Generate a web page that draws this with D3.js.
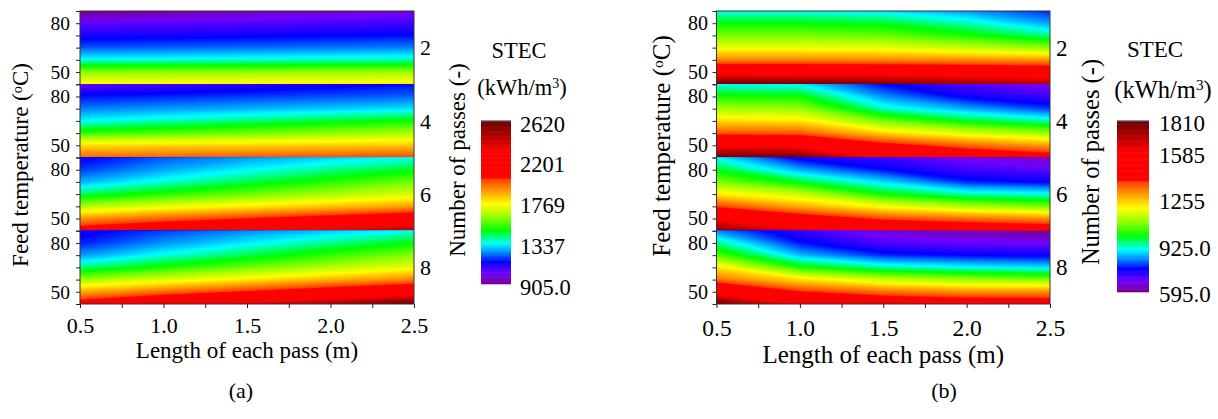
<!DOCTYPE html>
<html><head><meta charset="utf-8">
<script src="https://cdn.jsdelivr.net/npm/d3@7"></script>
<style>
body{margin:0;background:#fff}
svg text{font-family:"Liberation Serif","Times New Roman","DejaVu Serif",serif;fill:#000}
</style>
</head><body>
<svg id="chart" width="1218" height="419"></svg>
<script>
// ---------------- DATA ----------------
const lengths = [0.5, 1.0, 1.5, 2.0, 2.5];          // Length of each pass (m)
const temps   = [42.5, 50, 57.5, 65, 72.5, 80, 87.5]; // Feed temperature (°C), grid rows
const passes  = ["2", "4", "6", "8"];                 // Number of passes
const xTickValues = [0.5, 0.75, 1.0, 1.25, 1.5, 1.75, 2.0, 2.25, 2.5];
const xTickLabels = [0.5, 1.0, 1.5, 2.0, 2.5];
const tempTickLabels = [50, 80];

// Panel (a) STEC (kWh/m3); rows = temps, columns = lengths
const stecA_p2 = [
  [1760, 1765, 1770, 1775, 1780],
  [1600, 1605, 1610, 1615, 1620],
  [1340, 1346, 1354, 1362, 1370],
  [1200, 1208, 1216, 1224, 1232],
  [1115, 1122, 1130, 1138, 1146],
  [1030, 1040, 1050, 1060, 1070],
  [905, 930, 952, 970, 990]
];
const stecA_p4 = [
  [1960, 1970, 1980, 1990, 2000],
  [1790, 1797, 1805, 1812, 1820],
  [1510, 1545, 1575, 1608, 1640],
  [1330, 1370, 1405, 1442, 1480],
  [1230, 1250, 1270, 1290, 1310],
  [1150, 1165, 1180, 1195, 1210],
  [1030, 1065, 1095, 1122, 1150]
];
const stecA_p6 = [
  [2100, 2180, 2260, 2350, 2450],
  [1890, 1960, 2020, 2085, 2150],
  [1640, 1710, 1770, 1825, 1880],
  [1420, 1500, 1570, 1635, 1700],
  [1270, 1355, 1430, 1505, 1580],
  [1180, 1260, 1330, 1395, 1455],
  [1130, 1200, 1250, 1295, 1335]
];
const stecA_p8 = [
  [2100, 2220, 2340, 2470, 2620],
  [1860, 1950, 2030, 2115, 2200],
  [1620, 1700, 1775, 1850, 1920],
  [1400, 1490, 1570, 1648, 1720],
  [1250, 1345, 1430, 1515, 1600],
  [1160, 1245, 1320, 1395, 1470],
  [1120, 1185, 1240, 1290, 1340]
];
// Panel (b)
const stecB_p2 = [
  [1810, 1800, 1780, 1740, 1700],
  [1520, 1520, 1515, 1500, 1480],
  [1310, 1310, 1305, 1300, 1290],
  [1175, 1175, 1170, 1135, 1090],
  [1075, 1075, 1062, 1010, 940],
  [995, 995, 980, 925, 845],
  [900, 900, 885, 840, 780]
];
const stecB_p4 = [
  [1800, 1790, 1560, 1500, 1450],
  [1560, 1550, 1420, 1340, 1280],
  [1355, 1350, 1230, 1160, 1100],
  [1225, 1215, 1070, 980, 925],
  [1110, 1100, 920, 850, 790],
  [1009, 1000, 835, 750, 715],
  [900, 890, 763, 700, 660]
];
const stecB_p6 = [
  [1760, 1620, 1550, 1500, 1480],
  [1560, 1450, 1366, 1330, 1300],
  [1370, 1270, 1180, 1115, 1070],
  [1210, 1140, 1000, 925, 905],
  [1080, 980, 880, 780, 755],
  [985, 850, 765, 710, 690],
  [890, 745, 715, 660, 630]
];
const stecB_p8 = [
  [1800, 1560, 1500, 1470, 1460],
  [1540, 1390, 1330, 1300, 1300],
  [1330, 1220, 1140, 1100, 1080],
  [1215, 1009, 930, 899, 880],
  [1050, 860, 780, 760, 750],
  [940, 770, 700, 680, 670],
  [830, 720, 650, 620, 595]
];
const rangeA = [905, 2620];
const rangeB = [595, 1810];
const cbTicksA = [905, 1337, 1769, 2201, 2620];
const cbLabelsA = ["905.0", "1337", "1769", "2201", "2620"];
const cbTicksB = [595, 925, 1255, 1585, 1810];
const cbLabelsB = ["595.0", "925.0", "1255", "1585", "1810"];

// Rainbow palette (fraction of range -> colour)
const paletteStops  = [0, 0.067, 0.138, 0.19, 0.25, 0.33, 0.41, 0.493, 0.574, 0.645, 0.655, 0.817, 1];
const paletteColors = ["#7a0088", "#7000ff", "#0000ff", "#0080ff", "#00ffff", "#00ff00", "#90ff00", "#ffff00", "#ff9900", "#ff4000", "#ff0000", "#ff0000", "#6a0000"];

// ---------------- DRAWING ----------------
const FONT = '"Liberation Serif","Times New Roman","DejaVu Serif",serif';
const svg = d3.select("#chart");

function makeColor(range) {
  const [lo, hi] = range;
  return d3.scaleLinear()
    .domain(paletteStops.map(s => lo + s * (hi - lo)))
    .range(paletteColors)
    .interpolate(d3.interpolateRgb)
    .clamp(true);
}

function drawPanel(cfg) {
  const g = svg.append("g").attr("font-family", FONT);
  const x = d3.scaleLinear().domain([0.5, 2.5]).range([cfg.left, cfg.right]);
  const color = makeColor(cfg.range);
  const nStrips = cfg.grids.length;
  const stripH = (cfg.bottom - cfg.top) / nStrips;
  const [lo, hi] = cfg.range;
  const NLEV = 140;
  const thresholds = d3.range(NLEV).map(k => lo + k * (hi - lo) / NLEV);
  const stepV = (hi - lo) / NLEV;

  cfg.grids.forEach((grid, s) => {
    const sTop = cfg.top + s * stripH;
    const y = d3.scaleLinear().domain([42.5, 87.5]).range([sTop + stripH, sTop]);
    const nx = lengths.length, ny = temps.length;
    const values = [];
    for (let j = 0; j < ny; j++) for (let i = 0; i < nx; i++) values.push(grid[j][i]);
    const gxToL = d3.scaleLinear().domain([0.5, nx - 0.5]).range([lengths[0], lengths[nx - 1]]);
    const gyToT = d3.scaleLinear().domain([0.5, ny - 0.5]).range([temps[0], temps[ny - 1]]);
    const proj = d3.geoTransform({
      point: function (px, py) { this.stream.point(x(gxToL(px)), y(gyToT(py))); }
    });
    const path = d3.geoPath(proj);
    const contours = d3.contours().size([nx, ny]).smooth(true).thresholds(thresholds)(values);
    const clipId = cfg.id + "clip" + s;
    g.append("clipPath").attr("id", clipId)
      .append("rect").attr("x", cfg.left).attr("y", sTop)
      .attr("width", cfg.right - cfg.left).attr("height", stripH);
    const cg = g.append("g").attr("clip-path", `url(#${clipId})`);
    cg.append("rect").attr("x", cfg.left).attr("y", sTop)
      .attr("width", cfg.right - cfg.left).attr("height", stripH)
      .attr("fill", color(lo));
    cg.selectAll("path").data(contours).join("path")
      .attr("d", path)
      .attr("fill", d => color(d.value + stepV / 2))
      .attr("stroke", d => color(d.value + stepV / 2))
      .attr("stroke-width", 0.4);

    // left axis
    const ax = g.append("g").attr("transform", `translate(${cfg.left},0)`)
      .call(d3.axisLeft(y).tickValues(temps)
        .tickFormat(d => tempTickLabels.includes(d) ? d : "")
        .tickSize(4).tickPadding(cfg.yPad));
    ax.attr("font-family", FONT);
    ax.select(".domain").remove();
    ax.selectAll("line").attr("stroke", "#222");
    ax.selectAll("text").attr("font-family", FONT).style("font-size", cfg.yFont + "px");

    // pass label on the right
    g.append("text").attr("x", cfg.right + cfg.passDx).attr("y", sTop + stripH / 2)
      .attr("dy", "0.35em").style("font-size", cfg.passFont + "px").text(passes[s]);
  });

  // frame
  g.append("rect").attr("x", cfg.left).attr("y", cfg.top)
    .attr("width", cfg.right - cfg.left).attr("height", cfg.bottom - cfg.top)
    .attr("fill", "none").attr("stroke", "#333").attr("stroke-width", 1);

  // x axis
  const xa = g.append("g").attr("transform", `translate(0,${cfg.bottom})`)
    .call(d3.axisBottom(x).tickValues(xTickValues)
      .tickFormat(d => xTickLabels.includes(d) ? d3.format(".1f")(d) : "")
      .tickSize(4).tickPadding(cfg.xPad));
  xa.attr("font-family", FONT);
  xa.select(".domain").remove();
  xa.selectAll("line").attr("stroke", "#222");
  xa.selectAll("text").attr("font-family", FONT).style("font-size", cfg.xFont + "px");

  // axis titles
  g.append("text").attr("x", (cfg.left + cfg.right) / 2).attr("y", cfg.xTitleY)
    .attr("text-anchor", "middle").style("font-size", cfg.titleFont + "px")
    .text("Length of each pass (m)");

  const yt = g.append("text")
    .attr("transform", `translate(${cfg.yTitleX},${cfg.yTitleY}) rotate(-90)`)
    .attr("text-anchor", "middle").style("font-size", cfg.yTitleFont + "px");
  yt.append("tspan").text("Feed temperature (");
  yt.append("tspan").attr("dy", "-0.45em").style("font-size", "0.62em").text("o");
  yt.append("tspan").attr("dy", "0.28em").text("C)");

  g.append("text")
    .attr("transform", `translate(${cfg.passTitleX},${cfg.passTitleY}) rotate(-90)`)
    .attr("text-anchor", "middle").style("font-size", cfg.passTitleFont + "px")
    .text("Number of passes (-)");

  // colour bar
  const cb = cfg.cb;
  const cy = d3.scaleLinear().domain([lo, hi]).range([cb.bottom, cb.top]);
  const NB = 200;
  const bandV = (hi - lo) / NB;
  g.append("g").selectAll("rect").data(d3.range(NB).map(k => lo + k * bandV)).join("rect")
    .attr("x", cb.left).attr("width", cb.width)
    .attr("y", d => cy(d + bandV) - 0.3)
    .attr("height", d => cy(d) - cy(d + bandV) + 0.6)
    .attr("fill", d => color(d + bandV / 2));
  g.append("line").attr("x1", cb.left).attr("x2", cb.left + cb.width)
    .attr("y1", cb.top).attr("y2", cb.top).attr("stroke", "#666").attr("stroke-width", 1);
  g.append("g").selectAll("text").data(cfg.cbTicks).join("text")
    .attr("x", cb.labelX).attr("y", d => cy(d) + cb.labelShift)
    .attr("dy", "0.35em").style("font-size", cb.font + "px")
    .text((d, i) => cfg.cbLabels[i]);

  g.append("text").attr("x", cb.stecX).attr("y", cb.stecY)
    .attr("text-anchor", "middle").style("font-size", cb.titleFont + "px").text("STEC");
  const u = g.append("text").attr("x", cb.unitX).attr("y", cb.unitY)
    .attr("text-anchor", "middle").style("font-size", cb.unitFont + "px");
  u.append("tspan").text("(kWh/m");
  u.append("tspan").attr("dy", "-0.5em").style("font-size", "0.62em").text("3");
  u.append("tspan").attr("dy", "0.31em").text(")");

  g.append("text").attr("x", cfg.capX).attr("y", 398)
    .attr("text-anchor", "middle").style("font-size", "22px").text(cfg.caption);
}

drawPanel({
  id: "a", left: 80, right: 414, top: 11, bottom: 304,
  grids: [stecA_p2, stecA_p4, stecA_p6, stecA_p8], range: rangeA,
  yPad: 6, yFont: 19.5, xPad: 9, xFont: 22, passDx: 6, passFont: 22,
  titleFont: 23, xTitleY: 358, yTitleX: 28, yTitleY: 165, yTitleFont: 23,
  passTitleX: 465, passTitleY: 160, passTitleFont: 23,
  cb: { left: 481, width: 30, top: 121, bottom: 284, labelX: 520, labelShift: 3.5, font: 22.5,
        stecX: 519, stecY: 58, titleFont: 22.5, unitX: 522, unitY: 95, unitFont: 22.5 },
  cbTicks: cbTicksA, cbLabels: cbLabelsA, capX: 241, caption: "(a)"
});

drawPanel({
  id: "b", left: 716.5, right: 1050, top: 11, bottom: 304,
  grids: [stecB_p2, stecB_p4, stecB_p6, stecB_p8], range: rangeB,
  yPad: 4.5, yFont: 20, xPad: 11, xFont: 23.5, passDx: 6, passFont: 23,
  titleFont: 25, xTitleY: 363, yTitleX: 670, yTitleY: 146, yTitleFont: 25,
  passTitleX: 1099, passTitleY: 162, passTitleFont: 24.5,
  cb: { left: 1117, width: 32, top: 121, bottom: 292, labelX: 1159, labelShift: 2, font: 23,
        stecX: 1155, stecY: 57, titleFont: 23, unitX: 1163, unitY: 98, unitFont: 24.5 },
  cbTicks: cbTicksB, cbLabels: cbLabelsB, capX: 944, caption: "(b)"
});
</script>
</body></html>
